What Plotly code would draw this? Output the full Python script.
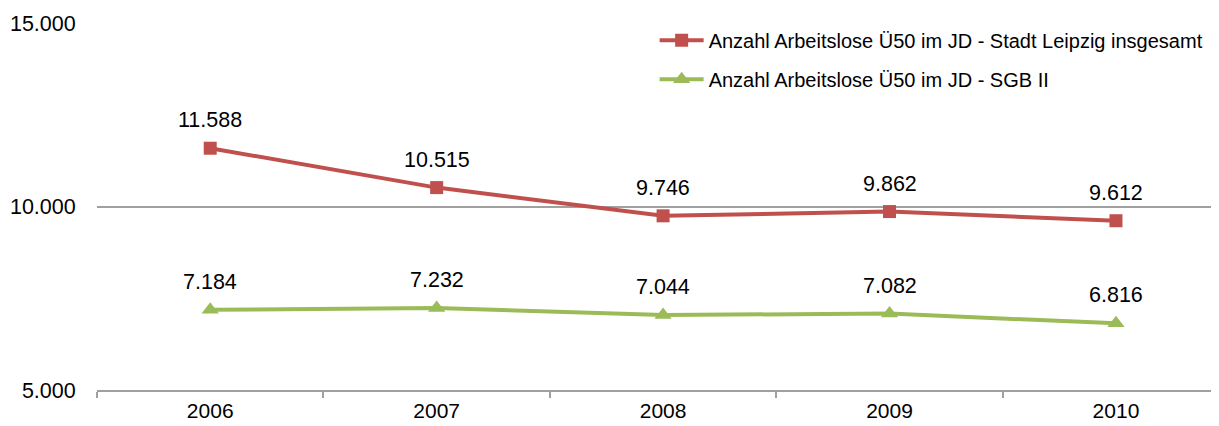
import plotly.graph_objects as go

years = ['2006', '2007', '2008', '2009', '2010']
leipzig_total = [11588, 10515, 9746, 9862, 9612]
sgb2 = [7184, 7232, 7044, 7082, 6816]
name_total = 'Anzahl Arbeitslose Ü50 im JD - Stadt Leipzig insgesamt'
name_sgb2 = 'Anzahl Arbeitslose Ü50 im JD - SGB II'

RED = '#C0504D'
GREEN = '#9BBB59'
FONT = 'Liberation Sans, Arial, sans-serif'


def fmt(v):
    # German thousands separator
    return '{:,}'.format(v).replace(',', '.')


fig = go.Figure()
fig.add_trace(
    go.Scatter(
        name=name_total, x=years, y=leipzig_total,
        mode='lines+markers', legendgroup='a',
        line=dict(color=RED, width=4),
        marker=dict(symbol='square', size=13, color=RED)
    )
)
fig.add_trace(
    go.Scatter(
        name=name_sgb2, x=years, y=sgb2,
        mode='lines+markers', legendgroup='b',
        line=dict(color=GREEN, width=4),
        marker=dict(symbol='triangle-up', size=15, color=GREEN)
    )
)

# Data labels above points (category index as x position)
for series in (leipzig_total, sgb2):
    for i, v in enumerate(series):
        fig.add_annotation(
            x=i, y=v, text=fmt(v), showarrow=False,
            yanchor='middle', yshift=28,
            font=dict(size=21.5, color='#000000', family=FONT)
        )

fig.update_xaxes(
    type='category', range=[-0.5, 4.455], automargin=False,
    showline=True, linecolor='#A0A0A0', linewidth=1.5,
    ticks='outside', tickson='boundaries', ticklen=6,
    tickcolor='#A0A0A0', tickwidth=1.5, ticklabelstandoff=1,
    showgrid=False, tickfont=dict(size=21, color='#000000', family=FONT)
)
fig.update_yaxes(
    range=[5000, 15000], tickvals=[5000, 10000, 15000],
    ticktext=[fmt(v) for v in (5000, 10000, 15000)], automargin=False,
    showgrid=True, gridcolor='#A0A0A0', gridwidth=1.5,
    showline=False, zeroline=False,
    ticks='outside', ticklen=16, tickcolor='rgba(0,0,0,0)',
    tickfont=dict(size=21.5, color='#000000', family=FONT)
)
# page body adds an 8px margin, so the figure is 8px smaller than the window
fig.update_layout(
    width=1211, height=418,
    paper_bgcolor='#FFFFFF', plot_bgcolor='#FFFFFF',
    margin=dict(l=89, r=0, t=15, b=36),
    font=dict(family=FONT, color='#000000'),
    showlegend=True,
    legend=dict(
        x=0.497, y=1.006, xanchor='left', yanchor='top',
        bgcolor='rgba(255,255,255,0)', traceorder='grouped',
        tracegroupgap=10, itemwidth=44,
        font=dict(size=20, family=FONT, color='#000000')
    )
)
fig.write_html('out.html')
